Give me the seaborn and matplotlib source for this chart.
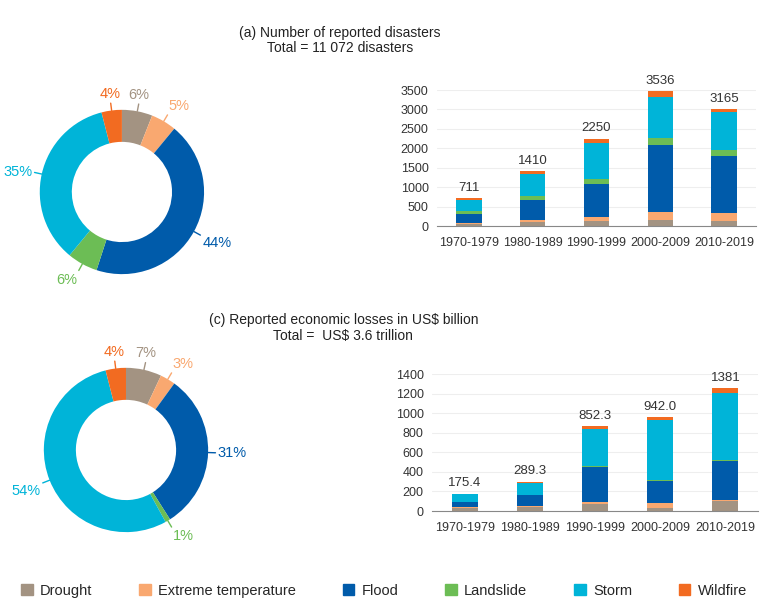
import matplotlib
matplotlib.use("Agg")
import matplotlib.pyplot as plt
import seaborn as sns
import numpy as np

hazards = ["Drought", "Extreme temperature", "Flood", "Landslide", "Storm", "Wildfire"]
colors = ["#A39382", "#F9A870", "#005BAA", "#6CBD55", "#00B4D8", "#F26B21"]
decades = ["1970-1979", "1980-1989", "1990-1999", "2000-2009", "2010-2019"]

# (a) number of reported disasters, per decade and hazard
disasters = {
    "Drought":             [43, 103, 120, 165, 140],
    "Extreme temperature": [34, 45, 104, 205, 190],
    "Flood":               [241, 530, 850, 1720, 1470],
    "Landslide":           [69, 105, 140, 180, 160],
    "Storm":               [275, 550, 910, 1050, 970],
    "Wildfire":            [49, 77, 126, 150, 90],
}
disaster_totals = ["711", "1410", "2250", "3536", "3165"]
disaster_share = [6, 5, 44, 6, 35, 4]

# (c) reported economic losses, US$ billion
losses = {
    "Drought":             [30, 40, 75, 35, 106],
    "Extreme temperature": [12, 12, 20, 45, 4],
    "Flood":               [50, 108, 352, 228, 400],
    "Landslide":           [3, 6, 10, 4, 7],
    "Storm":               [80, 122, 378, 616, 685],
    "Wildfire":            [3, 12, 35, 31, 54],
}
loss_totals = ["175.4", "289.3", "852.3", "942.0", "1381"]
loss_share = [7, 3, 31, 1, 54, 4]

sns.set_style("white")
plt.rcParams["font.family"] = ["Liberation Sans", "DejaVu Sans"]

fig = plt.figure(figsize=(7.68, 5.99), dpi=100)


def donut(ax, shares):
    wedges, _ = ax.pie(shares, colors=colors, startangle=90, counterclock=False,
                       radius=1.0, wedgeprops=dict(width=0.39, edgecolor="none"))
    for w, s, c in zip(wedges, shares, colors):
        ang = np.deg2rad((w.theta1 + w.theta2) / 2)
        cx, cy = np.cos(ang), np.sin(ang)
        ax.plot([1.0 * cx, 1.09 * cx], [1.0 * cy, 1.09 * cy], color=c, lw=1)
        ha = "left" if cx > 0.35 else ("right" if cx < -0.35 else "center")
        va = "bottom" if cy > 0.35 else ("top" if cy < -0.35 else "center")
        ax.text(1.12 * cx, 1.12 * cy, f"{s}%", color=c, ha=ha, va=va, fontsize=10.5)
    ax.set_xlim(-1.4, 1.4)
    ax.set_ylim(-1.4, 1.4)
    ax.set_aspect("equal")
    ax.axis("off")


def stacked(ax, data, totals, ymax, step):
    cum = np.zeros(len(decades))
    for h, c in zip(hazards, colors):
        vals = np.array(data[h], dtype=float)
        sns.barplot(x=decades, y=vals, bottom=cum, color=c, width=0.4,
                    saturation=1, ax=ax, linewidth=0)
        cum += vals
    for i, t in enumerate(totals):
        ax.annotate(t, (i, cum[i]), xytext=(0, 3), textcoords="offset points",
                    ha="center", va="bottom", fontsize=9.5, color="#333333",
                    annotation_clip=False)
    ax.set_xlim(-0.5, 4.5)
    ax.set_ylim(0, ymax)
    ax.set_yticks(np.arange(0, ymax + 1, step))
    ax.yaxis.grid(True, color="#EEEEEE", lw=0.8)
    ax.set_axisbelow(True)
    for s in ["top", "right", "left"]:
        ax.spines[s].set_visible(False)
    ax.spines["bottom"].set_color("#888888")
    ax.tick_params(axis="both", length=0, labelsize=9, colors="#333333", pad=6)
    ax.tick_params(axis="x", pad=8)
    ax.set_xlabel("")
    ax.set_ylabel("")


ax_d1 = fig.add_axes([0.009, 0.4875, 0.2995, 0.384])
donut(ax_d1, disaster_share)
ax_d2 = fig.add_axes([0.0143, 0.0568, 0.2995, 0.384])
donut(ax_d2, loss_share)

ax_b1 = fig.add_axes([0.569, 0.6227, 0.4154, 0.227])
stacked(ax_b1, disasters, disaster_totals, 3500, 500)
ax_b2 = fig.add_axes([0.5625, 0.1469, 0.4245, 0.2287])
stacked(ax_b2, losses, loss_totals, 1400, 200)

fig.text(0.443, 1 - 33 / 599, "(a) Number of reported disasters", ha="center",
         va="center", fontsize=10, color="#222222")
fig.text(0.443, 1 - 48 / 599, "Total = 11 072 disasters", ha="center",
         va="center", fontsize=10, color="#222222")
fig.text(0.447, 1 - 320 / 599, r"(c) Reported economic losses in US\$ billion",
         ha="center", va="center", fontsize=10, color="#222222")
fig.text(0.447, 1 - 336 / 599, r"Total =  US\$ 3.6 trillion", ha="center",
         va="center", fontsize=10, color="#222222")

handles = [plt.Rectangle((0, 0), 1, 1, color=c) for c in colors]
fig.legend(handles, hazards, loc="center", bbox_to_anchor=(0.5, 0.014), ncol=6,
           frameon=False, fontsize=10, handlelength=0.8, handleheight=0.8,
           handletextpad=0.5, columnspacing=3.2,
           prop={"family": ["Liberation Sans Narrow", "Liberation Sans"], "size": 10.5})

fig.savefig("out.png", dpi=100)
